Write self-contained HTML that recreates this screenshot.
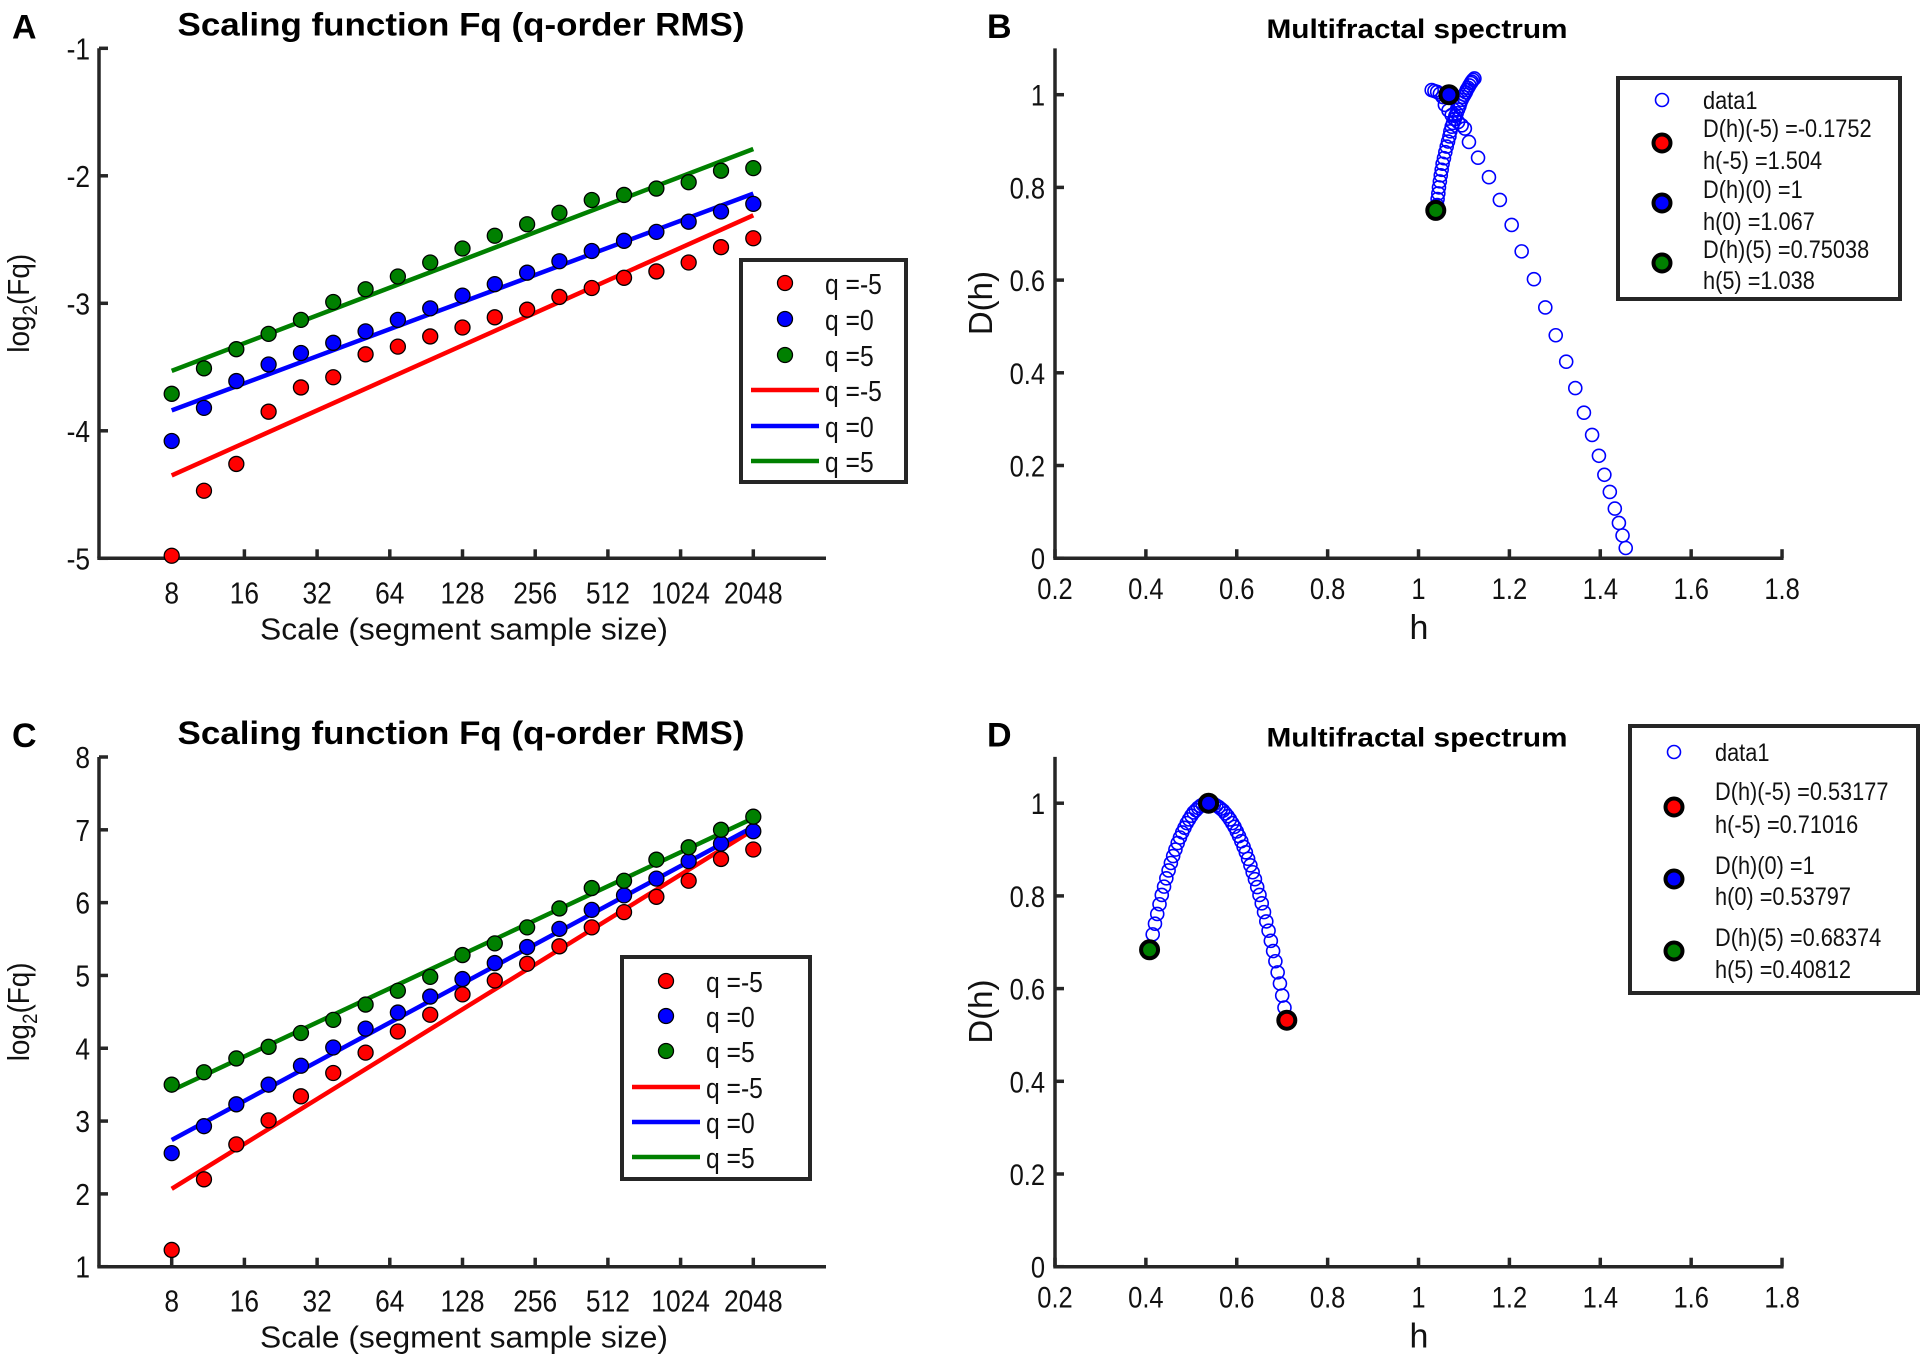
<!DOCTYPE html>
<html><head><meta charset="utf-8"><style>
html,body{margin:0;padding:0;background:#fff;}
svg{display:block;font-family:"Liberation Sans",Arial,sans-serif;}
</style></head><body>
<svg id="fig" width="1925" height="1363" viewBox="0 0 1925 1363" xmlns="http://www.w3.org/2000/svg"></svg>
<script>
// ---------- DATA ----------
const scaleLog2 = [3,3.444,3.889,4.333,4.778,5.222,5.667,6.111,6.556,7,7.444,7.889,8.333,8.778,9.222,9.667,10.111,10.556,11];
const xTickLog2 = [3,4,5,6,7,8,9,10,11];
const xTickLabels = ["8","16","32","64","128","256","512","1024","2048"];
const fitX = [3,11];

const aRed   = [-4.98,-4.47,-4.26,-3.85,-3.66,-3.58,-3.40,-3.34,-3.26,-3.19,-3.11,-3.05,-2.95,-2.88,-2.80,-2.75,-2.68,-2.56,-2.49];
const aBlue  = [-4.08,-3.82,-3.61,-3.48,-3.39,-3.31,-3.22,-3.13,-3.04,-2.94,-2.85,-2.76,-2.67,-2.59,-2.51,-2.44,-2.36,-2.28,-2.22];
const aGreen = [-3.71,-3.51,-3.36,-3.24,-3.13,-2.99,-2.89,-2.79,-2.68,-2.57,-2.47,-2.38,-2.29,-2.19,-2.15,-2.10,-2.05,-1.96,-1.94];
const aFitRed = [-4.35,-2.31];
const aFitBlue = [-3.84,-2.14];
const aFitGreen = [-3.53,-1.79];
const aYTicks = [-5,-4,-3,-2,-1];

const cRed   = [1.23,2.20,2.68,3.01,3.34,3.66,3.94,4.23,4.46,4.74,4.93,5.16,5.40,5.66,5.87,6.08,6.30,6.60,6.73];
const cBlue  = [2.56,2.93,3.23,3.50,3.76,4.01,4.27,4.49,4.71,4.95,5.17,5.39,5.64,5.90,6.10,6.33,6.57,6.81,6.98];
const cGreen = [3.50,3.67,3.86,4.02,4.21,4.39,4.60,4.79,4.98,5.28,5.44,5.66,5.92,6.20,6.30,6.59,6.76,7.00,7.18];
const cFitRed = [2.07,7.00];
const cFitBlue = [2.74,7.04];
const cFitGreen = [3.42,7.16];
const cYTicks = [1,2,3,4,5,6,7,8];

const specXTicks = [0.2,0.4,0.6,0.8,1,1.2,1.4,1.6,1.8];
const specYTicks = [0,0.2,0.4,0.6,0.8,1];

const hB = [1.040,1.041,1.042,1.0436,1.045,1.047,1.049,1.051,1.053,1.056,1.059,1.062,1.065,1.068,1.070,1.073,1.076,1.079,1.081,1.084,1.087,1.090,1.092,1.095,1.098,1.101,1.104,1.106,1.109,1.112,1.115,1.117,1.120,1.123,
  1.029,1.035,1.041,1.047,1.053,1.058,1.066,1.073,1.080,1.087,1.095,1.102,
  1.111,1.131,1.155,1.179,1.205,1.227,1.254,1.279,1.302,1.325,1.345,1.364,1.382,1.397,1.409,1.421,1.432,1.441,1.449,1.456];
const DB = [0.750,0.762,0.775,0.787,0.800,0.813,0.826,0.838,0.851,0.863,0.876,0.888,0.899,0.910,0.921,0.931,0.939,0.947,0.954,0.960,0.968,0.975,0.982,0.989,0.995,1.000,1.005,1.010,1.015,1.020,1.025,1.028,1.032,1.035,
  1.010,1.008,1.006,1.002,0.995,0.978,0.966,0.956,0.948,0.941,0.934,0.927,
  0.898,0.864,0.822,0.773,0.719,0.662,0.602,0.541,0.481,0.424,0.367,0.314,0.266,0.221,0.180,0.143,0.107,0.076,0.049,0.022];
const bSpecialH = [1.504,1.067,1.038];
const bSpecialD = [-0.1752,1.0,0.75038];

const hD = [0.408,0.415,0.420,0.425,0.430,0.435,0.440,0.445,0.450,0.455,0.460,0.465,0.470,0.475,0.480,0.485,0.490,0.495,0.500,0.505,0.510,0.515,0.520,0.525,0.530,0.535,0.538,
  0.545,0.550,0.555,0.560,0.565,0.570,0.575,0.580,0.585,0.590,0.595,0.600,0.605,0.610,0.615,0.620,0.625,0.630,0.635,0.640,0.645,0.650,0.655,0.660,0.665,0.670,0.675,0.680,0.685,0.690,0.695,0.700,0.705,0.710];
const DD = [0.684,0.717,0.740,0.761,0.782,0.802,0.820,0.838,0.855,0.871,0.886,0.900,0.914,0.926,0.937,0.947,0.957,0.965,0.973,0.980,0.985,0.990,0.994,0.997,0.999,1.0,1.0,
  0.999,0.998,0.995,0.992,0.988,0.984,0.978,0.972,0.965,0.957,0.949,0.939,0.929,0.918,0.906,0.894,0.880,0.866,0.851,0.836,0.819,0.802,0.784,0.765,0.745,0.725,0.703,0.681,0.659,0.635,0.611,0.585,0.559,0.532];
const dSpecialH = [0.71016,0.53797,0.40812];
const dSpecialD = [0.53177,1.0,0.68374];
const specialColors = ["#ff0000","#0000ff","#008000"];

// ---------- HELPERS ----------
const NS = "http://www.w3.org/2000/svg";
const svg = document.getElementById("fig");
function mk(tag, attrs, parent){
  const e = document.createElementNS(NS, tag);
  for (const k in attrs) e.setAttribute(k, attrs[k]);
  (parent||svg).appendChild(e);
  return e;
}
function txt(s, attrs, parent){ const t = mk("text", attrs, parent); t.textContent = s; return t; }
// condensed text
function ctxt(s, x, y, size, anchor, sx, parent){
  return txt(s, {x:0, y:0, "font-size":size, "text-anchor":anchor, fill:"#111", transform:`translate(${x},${y}) scale(${sx},1)`}, parent);
}
const AX = "#262626";

const xLog = v => 99 + (v - 2) * 72.7;
const yA = v => 48.3 + (-1 - v) * 127.5;
const yC = v => 757 + (8 - v) * (509.7 / 7);
const xSpec = v => 1055 + (v - 0.2) * 454.4;
const yB = v => 558.2 - v * 463.5;
const yD = v => 1266.7 - v * 463.5;

function scalingPanel(id, yS, yTicks, yMin, yMax, top, letter, red, blue, green, fr, fb, fg, leg){
  const g = mk("g", {});
  
  
  const bottom = yS(yMin);
  const pl = txt(letter, {x:12, y:top-10, "font-size":34, "font-weight":"bold"}, g);
  
  
  const ti = txt("Scaling function Fq (q-order RMS)", {x:461, y:top-13, "font-size":32, "font-weight":"bold", "text-anchor":"middle", textLength:567, lengthAdjust:"spacingAndGlyphs"}, g);
  
  
  const ya = mk("line", {x1:99, y1:top, x2:99, y2:bottom, stroke:AX, "stroke-width":3.5}, g);
  
  
  const xa = mk("line", {x1:97.3, y1:bottom, x2:xLog(12), y2:bottom, stroke:AX, "stroke-width":3.5}, g);
  
  
  yTicks.forEach(v => {
    mk("line", {x1:99, y1:yS(v), x2:108, y2:yS(v), stroke:AX, "stroke-width":3.5}, g);
    const t = ctxt(String(v), 90, yS(v)+11, 31, "end", 0.85, g);
    
    
  });
  xTickLog2.forEach((v,i) => {
    mk("line", {x1:xLog(v), y1:bottom, x2:xLog(v), y2:bottom-9, stroke:AX, "stroke-width":3.5}, g);
    const t = ctxt(xTickLabels[i], xLog(v), bottom+45, 31, "middle", 0.85, g);
    
    
  });
  const xl = txt("Scale (segment sample size)", {x:464, y:bottom+81, "font-size":31, "text-anchor":"middle", textLength:408, lengthAdjust:"spacingAndGlyphs", fill:"#111"}, g);
  
  
  const cy = (top + bottom)/2;
  const yl = txt("", {x:0, y:0, "font-size":31, "text-anchor":"middle", transform:`translate(29,${cy}) rotate(-90) scale(0.9,1)`, fill:"#111"}, g);
  
  
  yl.innerHTML = 'log<tspan font-size="21" dy="8">2</tspan><tspan dy="-8">(Fq)</tspan>';
  [[fr,"#ff0000","fit-line-q-minus5"],[fb,"#0000ff","fit-line-q0"],[fg,"#008000","fit-line-q5"]].forEach(([f,c,n]) => {
    const l = mk("line", {x1:xLog(fitX[0]), y1:yS(f[0]), x2:xLog(fitX[1]), y2:yS(f[1]), stroke:c, "stroke-width":4.5}, g);
    
    
  });
  [[red,"#ff0000","point-q-minus5"],[blue,"#0000ff","point-q0"],[green,"#008000","point-q5"]].forEach(([arr,c,n]) => {
    arr.forEach((v,i) => {
      const p = mk("circle", {cx:xLog(scaleLog2[i]), cy:yS(v), r:7.5, fill:c, stroke:"#000", "stroke-width":1.3}, g);
      
      
    });
  });
  const lg = mk("g", {}, g);
  
  
  mk("rect", {x:leg.x, y:leg.y, width:leg.w, height:leg.h, fill:"#fff", stroke:AX, "stroke-width":4}, lg);
  const labels = ["q =-5","q =0","q =5","q =-5","q =0","q =5"];
  const cols = ["#ff0000","#0000ff","#008000","#ff0000","#0000ff","#008000"];
  labels.forEach((s,i) => {
    const ry = leg.rows[i];
    const e = mk("g", {}, lg);
    
    
    if (i < 3) mk("circle", {cx:leg.x+44, cy:ry, r:7.5, fill:cols[i], stroke:"#000", "stroke-width":1.3}, e);
    else mk("line", {x1:leg.x+10, y1:ry, x2:leg.x+78, y2:ry, stroke:cols[i], "stroke-width":4.5}, e);
    ctxt(s, leg.x+84, ry+11, 29, "start", 0.85, e);
  });
}

function spectrumPanel(id, yS, top, letter, hs, Ds, sh, sd, leg){
  const g = mk("g", {});
  
  
  const bottom = yS(0);
  const pl = txt(letter, {x:987, y:top-10, "font-size":34, "font-weight":"bold"}, g);
  
  
  const ti = txt("Multifractal spectrum", {x:1417, y:top-10, "font-size":27, "font-weight":"bold", "text-anchor":"middle", textLength:301, lengthAdjust:"spacingAndGlyphs"}, g);
  
  
  const ya = mk("line", {x1:1055, y1:yS(1.1), x2:1055, y2:bottom, stroke:AX, "stroke-width":3.5}, g);
  
  
  const xa = mk("line", {x1:1053.3, y1:bottom, x2:xSpec(1.8)+1.5, y2:bottom, stroke:AX, "stroke-width":3.5}, g);
  
  
  specYTicks.forEach(v => {
    mk("line", {x1:1055, y1:yS(v), x2:1064, y2:yS(v), stroke:AX, "stroke-width":3.5}, g);
    const t = ctxt(String(v), 1045, yS(v)+11, 30, "end", 0.85, g);
    
    
  });
  specXTicks.forEach(v => {
    mk("line", {x1:xSpec(v), y1:bottom, x2:xSpec(v), y2:bottom-9, stroke:AX, "stroke-width":3.5}, g);
    const t = ctxt(String(v), xSpec(v), bottom+41, 30, "middle", 0.85, g);
    
    
  });
  const xl = txt("h", {x:1419, y:bottom+81, "font-size":34, "text-anchor":"middle", fill:"#111"}, g);
  
  
  const yl = txt("D(h)", {x:0, y:0, "font-size":33, "text-anchor":"middle", transform:`translate(992,${(top+bottom)/2}) rotate(-90)`, fill:"#111"}, g);
  
  
  hs.forEach((h,i) => {
    const c = mk("circle", {cx:xSpec(h), cy:yS(Ds[i]), r:6.5, fill:"none", stroke:"#0000ff", "stroke-width":1.6}, g);
    
    
  });
  sh.forEach((h,i) => {
    if (sd[i] < 0 || sd[i] > 1.1 || h < 0.2 || h > 1.8) return;
    const c = mk("circle", {cx:xSpec(h), cy:yS(sd[i]), r:8.5, fill:specialColors[i], stroke:"#000", "stroke-width":4}, g);
    
    
  });
  const lg = mk("g", {}, g);
  
  
  mk("rect", {x:leg.x, y:leg.y, width:leg.w, height:leg.h, fill:"#fff", stroke:AX, "stroke-width":4}, lg);
  const mx = leg.x + 44, tx = leg.x + 85;
  mk("circle", {cx:mx, cy:leg.t[0], r:6.5, fill:"none", stroke:"#0000ff", "stroke-width":1.6}, lg);
  leg.lines.forEach((s,i) => {
    const t = ctxt(s, tx, leg.t[i]+9, 25, "start", 0.87, lg);
    
    
  });
  leg.m.forEach((my,i) => {
    mk("circle", {cx:mx, cy:my, r:8.5, fill:specialColors[i], stroke:"#000", "stroke-width":4}, lg);
  });
}

scalingPanel("panel-a", yA, aYTicks, -5, -1, 48.3, "A", aRed, aBlue, aGreen, aFitRed, aFitBlue, aFitGreen,
  {x:741, y:260, w:165, h:222, rows:[283,319,355,390,426,461]});
scalingPanel("panel-c", yC, cYTicks, 1, 8, 757, "C", cRed, cBlue, cGreen, cFitRed, cFitBlue, cFitGreen,
  {x:622, y:957, w:188, h:222, rows:[981,1016,1051,1087,1122,1157]});

spectrumPanel("panel-b", yB, 48, "B", hB, DB, bSpecialH, bSpecialD,
  {x:1618, y:78, w:282, h:221, t:[100,128,160,189,221,249,280], m:[143,203,263],
   lines:["data1","D(h)(-5) =-0.1752","h(-5) =1.504","D(h)(0) =1","h(0) =1.067","D(h)(5) =0.75038","h(5) =1.038"]});
spectrumPanel("panel-d", yD, 756.5, "D", hD, DD, dSpecialH, dSpecialD,
  {x:1630, y:726, w:288, h:267, t:[752,791,824,865,896,937,969], m:[807,879,951],
   lines:["data1","D(h)(-5) =0.53177","h(-5) =0.71016","D(h)(0) =1","h(0) =0.53797","D(h)(5) =0.68374","h(5) =0.40812"]});
</script>
</body></html>
